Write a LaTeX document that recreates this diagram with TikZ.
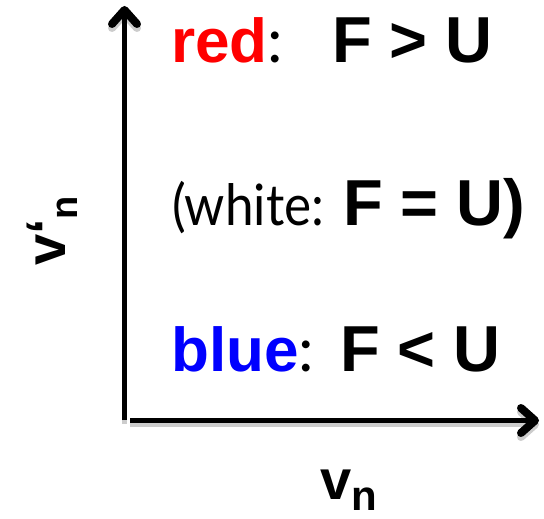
\documentclass[tikz,border=0pt]{standalone}
\usepackage{fontspec}
\setmainfont{Liberation Sans}
\newfontfamily\gillfont{Lato}
\usetikzlibrary{arrows.meta}
\begin{document}
\begin{tikzpicture}[x=1pt,y=-1pt,
  ax/.style={line width=5pt,-{Straight Barb[length=14pt,width=25pt,line width=8pt,round]}},
  axshadow/.style={ax,draw=black!20},
  lbl/.style={inner sep=0pt,anchor=base west},
  big/.style={lbl,font=\fontsize{65}{65}\selectfont\bfseries},
  key/.style={lbl,font=\fontsize{62}{62}\selectfont},
  sym/.style={lbl,font=\fontsize{56}{56}\selectfont\bfseries}]
  \useasboundingbox (0,0) rectangle (544,519);
  % axes
  \coordinate (o) at (124.5,420);
  \coordinate (ytip) at (124.5,6);
  \coordinate (xo) at (130,420.5);
  \coordinate (xtip) at (539,420.5);
  \draw[axshadow] ([yshift=-4pt]o) -- ([yshift=-4pt]ytip);
  \draw[axshadow] ([yshift=-4pt]xo) -- ([yshift=-4pt]xtip);
  \draw[ax] (o) -- (ytip);
  \draw[ax] (xo) -- (xtip);
  % axis labels
  \node[sym,rotate=90] (vprime) at (65,266) {v‘\raisebox{-12pt}{\fontsize{38}{38}\selectfont n}};
  \node[sym] (vn) at (320,499) {v\raisebox{-11pt}{\fontsize{42}{42}\selectfont n}};
  % regions
  \node[key] (red) at (171,63) {\textcolor{red}{\bfseries red}{\gillfont:}};
  \node[big] (gt) at (332,63) {F > U};
  \node[lbl,font=\gillfont\fontsize{57}{57}\selectfont] (white) at (172,225) {\scalebox{0.9}[1]{(white:}};
  \node[big] (eq) at (343,225) {F = U)};
  \node[key] (blue) at (171,371) {\textcolor{blue}{\bfseries blue}{\gillfont:}};
  \node[big] (lt) at (340,371) {F < U};
\end{tikzpicture}
\end{document}
